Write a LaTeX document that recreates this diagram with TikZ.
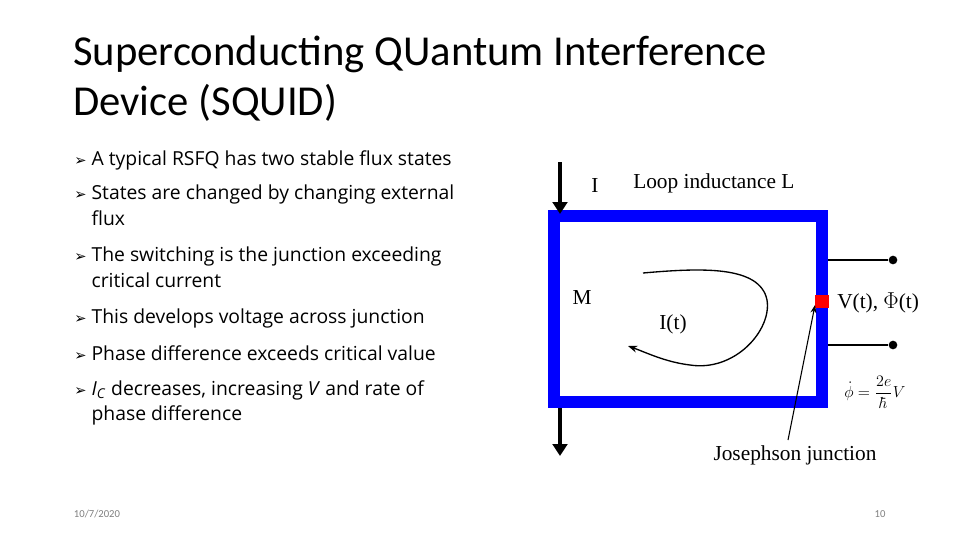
\documentclass[tikz,border=0pt]{standalone}
\usepackage{fontspec}
\setmainfont{Carlito}
\newfontfamily\bulfont{Open Sans}
\newfontfamily\symfont{DejaVu Sans}
\newfontfamily\figfont{Liberation Serif}
\usetikzlibrary{positioning,arrows.meta}
\tikzset{
  bul/.style={anchor=north west,inner sep=0pt,font=\bulfont\fontsize{14.5}{19}\selectfont,align=left},
  lbl/.style={inner sep=0pt,font=\figfont\fontsize{16}{18}\selectfont},
  current/.style={line width=3.5pt,-{Triangle[length=9pt,width=11pt]}},
  lead/.style={line width=1.3pt}
}
\newcommand{\bulsym}{\makebox[13pt][l]{\symfont\fontsize{11}{12}\selectfont ➢}}
\begin{document}
\begin{tikzpicture}[x=0.75pt,y=-0.75pt]
\useasboundingbox[fill=white] (0,0) rectangle (960,540);
%title
\node[anchor=north west,inner sep=0pt,align=left,font=\fontsize{32}{37}\selectfont] (title) at (73,36)
  {Superconducting QUantum Interference\\Device (SQUID)};
%bullets
\node[bul] (b1) at (74,150) {\bulsym A typical RSFQ has two stable flux states};
\node[bul] (b2) at (74,185) {\bulsym States are changed by changing external\\\hspace*{13pt}flux};
\node[bul] (b3) at (74,247) {\bulsym The switching is the junction exceeding\\\hspace*{13pt}critical current};
\node[bul] (b4) at (74,309) {\bulsym This develops voltage across junction};
\node[bul] (b5) at (74,345) {\bulsym Phase difference exceeds critical value};
\node[bul] (b6) at (74,380) {\bulsym \textit{I}\textsubscript{\textit{C}} decreases, increasing \textit{V} and rate of\\\hspace*{13pt}phase difference};
%loop
\draw[blue,line width=9pt] (554,216) rectangle (822,402);
\fill[red] (815,295) rectangle (829,308);
\coordinate (jj) at (815,305);
%currents
\draw[current] (560,162) -- (560,214);
\draw[current] (560,408) -- (560,456);
%leads
\node[circle,fill,inner sep=2.3pt] (t1) at (893,260) {};
\node[circle,fill,inner sep=2.3pt] (t2) at (893,345) {};
\draw[lead] (828,260) -- (t1);
\draw[lead] (828,345) -- (t2);
%circulating current
\draw[line width=1pt,-{Stealth[length=7pt]}] (643,273) .. controls (700,268) and (760,265) .. (767,300)
  .. controls (772,330) and (735,372) .. (690,365) .. controls (665,362) and (645,352) .. (628,346);
%labels
\node[lbl] (lI) at (595,186) {I};
\node[lbl,anchor=west] (lL) at (633,183) {Loop inductance L};
\node[lbl] (lM) at (582,298) {M};
\node[lbl] (lIt) at (673,324) {I(t)};
\node[lbl,anchor=west] (lV) at (837,303) {V(t), $\Phi$(t)};
\node[lbl,anchor=west,font=\figfont\fontsize{12}{14}\selectfont] (lphi) at (844,392) {$\dot\phi=\displaystyle\frac{2e}{\hbar}V$};
\node[lbl] (lJ) at (795,455) {Josephson junction};
\draw[line width=0.8pt,-{Stealth[length=6pt]}] (788,440) -- (jj);
%footer
\node[inner sep=0pt,font=\fontsize{8}{9}\selectfont,text=gray] (date) at (97,514) {10/7/2020};
\node[inner sep=0pt,font=\fontsize{8}{9}\selectfont,text=gray] (page) at (880,514) {10};
\end{tikzpicture}
\end{document}
